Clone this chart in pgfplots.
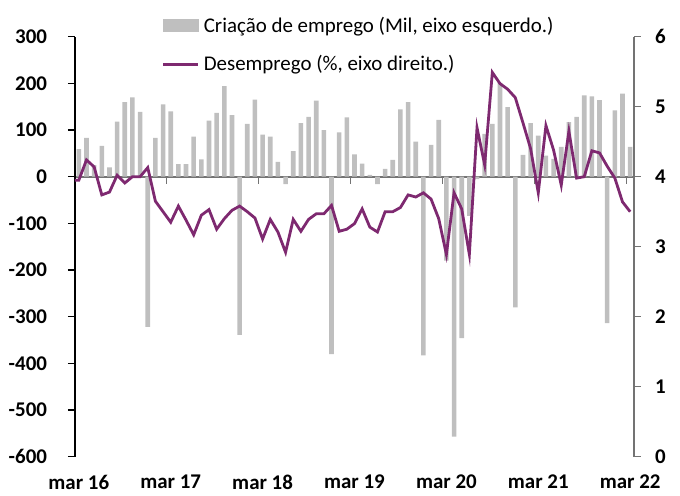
\documentclass[border=0pt]{standalone}
\usepackage{pgfplots}
\usepackage{pgfplotstable}
\pgfplotsset{compat=1.18}
\usepackage{fontspec}
\setmainfont{Carlito}

\definecolor{barcol}{RGB}{191,191,191}
\definecolor{linecol}{RGB}{126,41,112}
\definecolor{axcol}{RGB}{115,115,115}

% criacao de emprego (mil), mar 16 = 0 ... mar 22 = 72
\pgfplotstableread{
x y
0 59
1 83
2 25
3 66
4 20
5 118
6 160
7 170
8 139
9 -322
10 83
11 155
12 140
13 27
14 27
15 86
16 37
17 120
18 137
19 194
20 132
21 -339
22 113
23 165
24 90
25 86
26 32
27 -16
28 55
29 115
30 128
31 163
32 100
33 -380
34 95
35 127
36 48
37 28
38 4
39 -16
40 17
41 36
42 144
43 160
44 75
45 -383
46 68
47 122
48 -180
49 -557
50 -346
51 -84
52 -5
53 92
54 113
55 201
56 149
57 -280
58 47
59 115
60 88
61 45
62 38
63 64
64 117
65 128
66 174
67 172
68 164
69 -314
70 142
71 178
72 64
}\jobs

% desemprego (%)
\pgfplotstableread{
x y
-1 3.95
0 3.95
1 4.24
2 4.14
3 3.74
4 3.78
5 4.02
6 3.91
7 4.00
8 4.00
9 4.13
10 3.65
11 3.50
12 3.35
13 3.58
14 3.38
15 3.17
16 3.45
17 3.53
18 3.25
19 3.40
20 3.52
21 3.58
22 3.50
23 3.41
24 3.11
25 3.39
26 3.21
27 2.92
28 3.39
29 3.22
30 3.39
31 3.47
32 3.47
33 3.59
34 3.22
35 3.25
36 3.33
37 3.54
38 3.28
39 3.21
40 3.50
41 3.50
42 3.56
43 3.74
44 3.71
45 3.77
46 3.68
47 3.40
48 2.89
49 3.77
50 3.54
51 2.89
52 4.70
53 4.17
54 5.49
55 5.33
56 5.25
57 5.13
58 4.77
59 4.40
60 3.77
61 4.73
62 4.38
63 3.88
64 4.65
65 3.98
66 4.00
67 4.37
68 4.34
69 4.15
70 3.98
71 3.64
72 3.50
}\unemp

\begin{document}
\begin{tikzpicture}[font=\fontsize{10.5}{12.6}\selectfont]
\useasboundingbox (-37.5bp,-19.65bp) rectangle (302.5bp,228.35bp);
\pgfplotsset{
  base/.style={
    scale only axis, width=279.5bp, height=210bp,
    xmin=-0.5, xmax=72.5,
    major tick length=3.5bp,
    ticklabel style={font=\fontsize{10.5}{12.6}\selectfont\bfseries},
  },
}
% eixo esquerdo: barras
\begin{axis}[base,
  ymin=-600, ymax=300,
  ytick={-600,-500,...,300},
  yticklabels={-600,-500,-400,-300,-200,-100,0,100,200,300},
  axis y line*=left,
  y axis line style={black, line width=0.6bp},
  ytick align=outside,
  ytick style={black, line width=0.6bp},
  yticklabel style={xshift=-7bp},
  axis x line=middle,
  every inner x axis line/.append style={-, draw=axcol, line width=0.9bp},
  xtick={11.5,23.5,35.5,47.5,59.5,71.5},
  xticklabels={},
  xtick align=outside,
  xtick style={axcol, line width=0.6bp},
]
\addplot[ybar, bar width=0.6, fill=barcol, draw=none] table {\jobs};
\end{axis}
% eixo direito: linha
\begin{axis}[base,
  ymin=0, ymax=6,
  ytick={0,1,...,6},
  yticklabels={0,1,2,3,4,5,6},
  axis y line*=right,
  y axis line style={axcol, line width=0.6bp},
  ytick align=outside,
  ytick style={axcol, line width=0.6bp},
  yticklabel style={xshift=3.5bp},
  axis x line*=bottom,
  x axis line style={draw=none},
  xtick={0,12,...,72},
  xticklabels={mar 16,mar 17,mar 18,mar 19,mar 20,mar 21,mar 22},
  xtick style={draw=none},
  xticklabel style={yshift=-5.5bp},
  legend style={at={(0.155,1.058)}, anchor=north west, draw=none, fill=none,
    inner sep=0pt, row sep=6bp, font=\fontsize{10.5}{12.6}\selectfont},
  legend cell align=left,
]
\addlegendimage{legend image code/.code={\fill[barcol] (0bp,-3bp) rectangle (17.5bp,3bp);}}
\addlegendentry{Criação de emprego (Mil, eixo esquerdo.)}
\addplot[linecol, line width=1.4bp,
  legend image code/.code={\draw[linecol, line width=1.4bp] (0bp,0bp) -- (17.5bp,0bp);}]
  table {\unemp};
\addlegendentry{Desemprego (\%, eixo direito.)}
\end{axis}
\end{tikzpicture}
\end{document}
